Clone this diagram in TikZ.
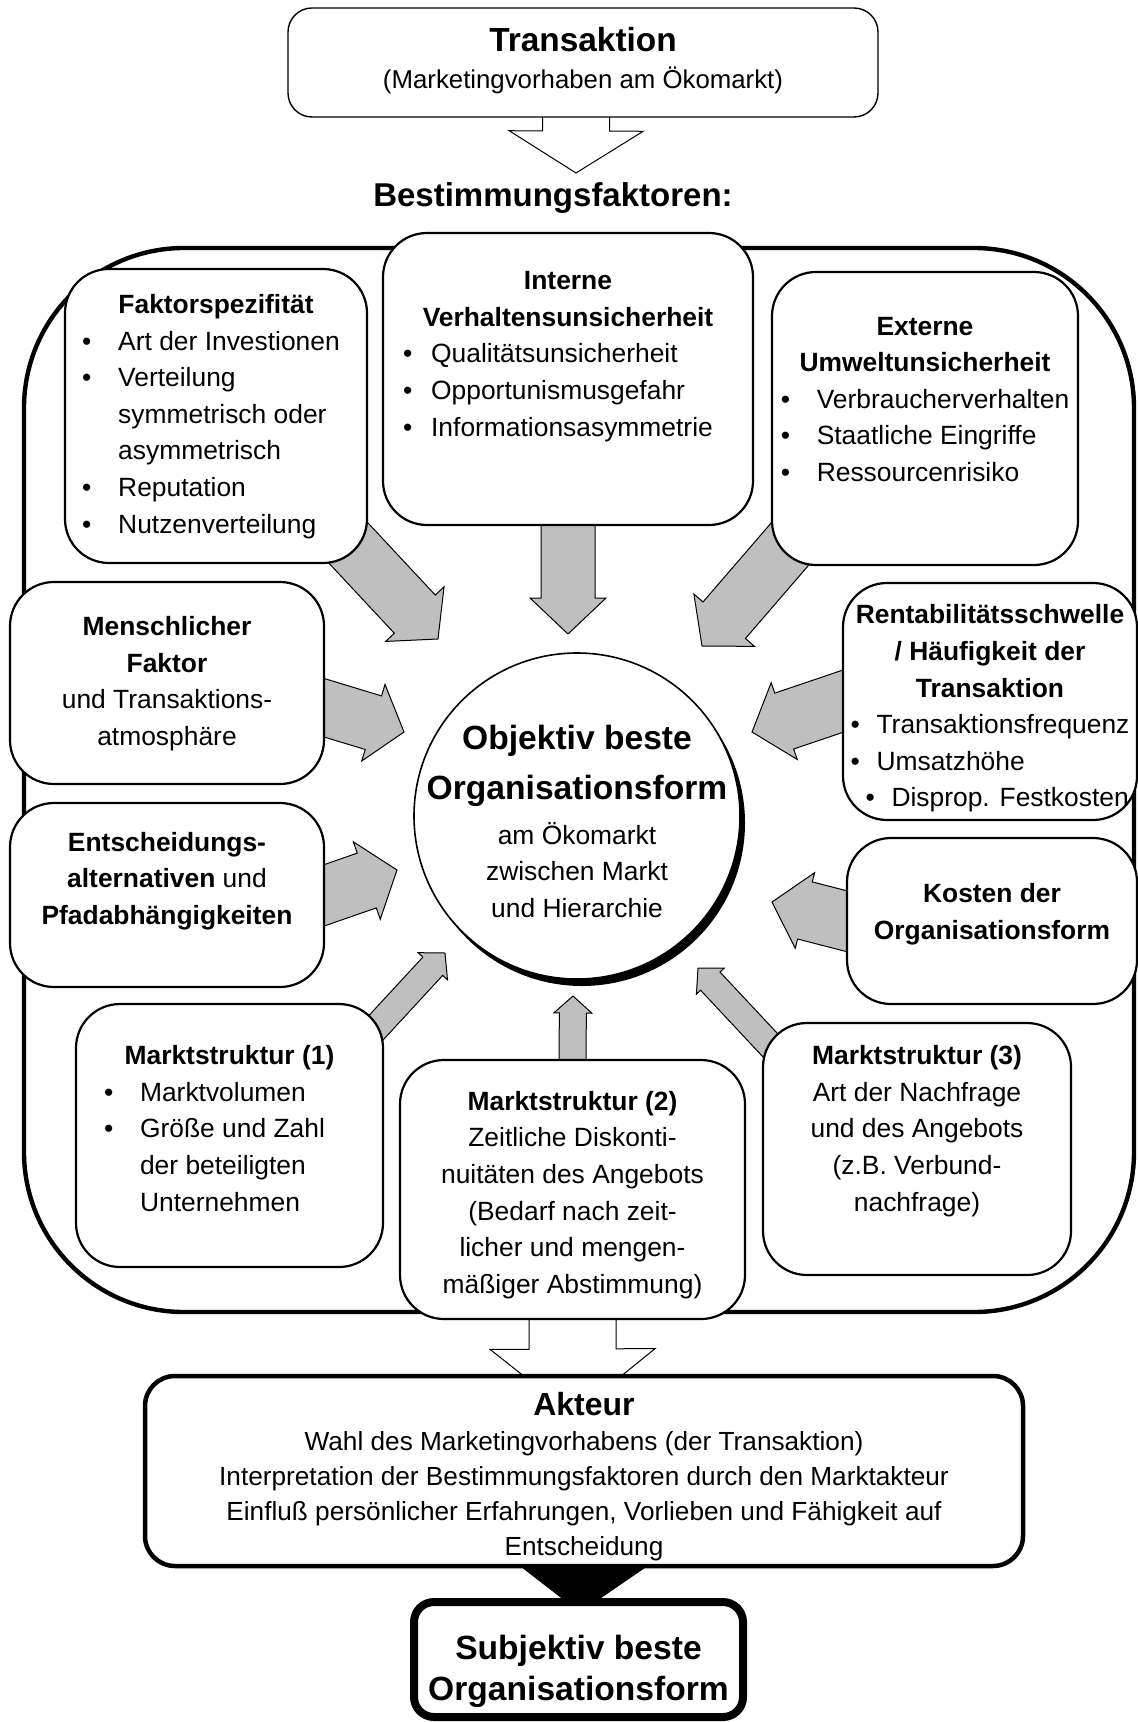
\documentclass[tikz,border=0pt]{standalone}
\usepackage{fontspec}
\setmainfont{Liberation Sans}
\usetikzlibrary{calc,backgrounds,shadows}

\newcommand{\boxfont}{\fontsize{13.2pt}{18.3pt}\selectfont}
\newcommand{\bitem}[1][18pt]{\makebox[#1][l]{\textbullet}}
\newcommand{\bcont}[1][18pt]{\hspace*{#1}}
\newcommand{\boxhead}[1]{\multicolumn{1}{@{}c@{}}{\textbf{#1}}}
\newcommand{\ltab}[2][0pt]{\begin{tabular}{@{}l@{\hspace{#1}}}#2\end{tabular}}
\newcommand{\ctab}[1]{\begin{tabular}{@{}c@{}}#1\end{tabular}}

% block arrow: [style]{from}{to}{shaft half width}{head half width}{head length}
\newcommand{\fatarrow}[6][grayarrow]{%
  \coordinate (tl) at ($(#2)!-25pt!(#3)$);
  \coordinate (hb) at ($(#3)!#6!(#2)$);
  \draw[#1] ($(tl)!#4!90:(#3)$) -- ($(hb)!#4!-90:(tl)$) -- ($(hb)!#5!-90:(tl)$)
    -- (#3) -- ($(hb)!#5!90:(tl)$) -- ($(hb)!#4!90:(tl)$) -- ($(tl)!#4!-90:(#3)$) -- cycle;}

\tikzset{
  factorbox/.style={draw, line width=1.1pt, rounded corners=22pt, fill=white,
    inner sep=2pt, font=\boxfont},
  grayarrow/.style={draw, line width=0.5pt, fill=black!25},
  hollowarrow/.style={draw, line width=0.5pt, fill=white},
  blackarrow/.style={draw, fill=black},
}

\begin{document}
\begin{tikzpicture}[x=0.5pt, y=-0.5pt]
  \useasboundingbox (0,0) rectangle (1138,1722);

  % frame round the factors
  \draw[line width=2.2pt, rounded corners=80pt] (24,248) rectangle (1134,1312);

  \node[factorbox, line width=0.7pt, rounded corners=12pt, minimum width=295pt,
    minimum height=54.5pt] (trans) at (583,62.5)
    {\ctab{{\fontsize{16.7pt}{19pt}\selectfont\textbf{Transaktion}}\\
      {\fontsize{12.9pt}{18pt}\selectfont(Marketingvorhaben am Ökomarkt)}}};
  \node[font=\fontsize{16.5pt}{20pt}\selectfont\bfseries] (best) at (553,198)
    {Bestimmungsfaktoren:};

  \node[factorbox, minimum width=151pt, minimum height=147pt] (fakt) at (216,416)
    {\ltab[5pt]{\boxhead{Faktorspezifität}\\ \bitem Art der Investionen\\
      \bitem Verteilung\\ \bcont symmetrisch oder\\ \bcont asymmetrisch\\
      \bitem Reputation\\ \bitem Nutzenverteilung}};
  \node[factorbox, minimum width=185pt, minimum height=146pt] (intr) at (568,379)
    {\ltab[10pt]{\boxhead{Interne}\\ \boxhead{Verhaltensunsicherheit}\\
      \bitem[14pt]Qualitätsunsicherheit\\ \bitem[14pt]Opportunismusgefahr\\
      \bitem[14pt]Informationsasymmetrie\\[23.5pt]}};
  \node[factorbox, minimum width=153pt, minimum height=146.5pt] (ext) at (925,418.5)
    {\ltab{\boxhead{Externe}\\ \boxhead{Umweltunsicherheit}\\
      \bitem Verbraucherverhalten\\ \bitem Staatliche Eingriffe\\
      \bitem Ressourcenrisiko\\[17.5pt]}};
  \node[factorbox, minimum width=157pt, minimum height=101pt] (mensch) at (167,683)
    {\ctab{\textbf{Menschlicher}\\ \textbf{Faktor}\\ und Transaktions-\\ atmosphäre}};
  \node[factorbox, minimum width=157pt, minimum height=92pt] (entsch) at (167,895)
    {\ctab{\textbf{Entscheidungs-}\\ \textbf{alternativen} und\\
      \textbf{Pfadabhängigkeiten}\\[14.5pt]}};
  \node[factorbox, inner sep=1pt, minimum width=147pt, minimum height=118.5pt] (rent)
    at (990,701.5)
    {\ltab{\boxhead{\rule{0pt}{19.3pt}Rentabilitätsschwelle}\\ \boxhead{/ Häufigkeit der}\\
      \boxhead{Transaktion}\\ \bitem[13pt]Transaktionsfrequenz\\
      \bitem[13pt]Umsatzhöhe\\ \bcont[7.5pt]\bitem[13pt]Disprop. Festkosten}};
  \node[factorbox, minimum width=145pt, minimum height=83pt] (kost) at (992,921)
    {\ctab{\textbf{Kosten der}\\ \textbf{Organisationsform}\\[7.5pt]}};
  \node[factorbox, minimum width=153.5pt, minimum height=131.5pt] (ms1) at (229.5,1135.5)
    {\ltab[15pt]{\boxhead{Marktstruktur (1)}\\ \bitem Marktvolumen\\
      \bitem Größe und Zahl\\ \bcont der beteiligten\\ \bcont Unternehmen\\[5pt]}};
  \node[factorbox, minimum width=172.5pt, minimum height=129.5pt] (ms2) at (572.5,1189.5)
    {\ctab{\textbf{\rule{0pt}{17.8pt}Marktstruktur (2)}\\ Zeitliche Diskonti-\\
      nuitäten des Angebots\\ (Bedarf nach zeit-\\ licher und mengen-\\
      mäßiger Abstimmung)}};
  \node[factorbox, minimum width=154pt, minimum height=126pt] (ms3) at (917,1149)
    {\ctab{\textbf{Marktstruktur (3)}\\ Art der Nachfrage\\ und des Angebots\\
      (z.B. Verbund-\\ nachfrage)\\[18.5pt]}};

  \node[circle, draw, line width=0.8pt, fill=white, minimum size=163pt, inner sep=0pt,
    drop shadow={shadow xshift=2.5pt, shadow yshift=-3.5pt, fill=black, opacity=1},
    font=\boxfont] (obj) at (577,816)
    {\makebox[0pt]{\ctab{{\fontsize{16.8pt}{20pt}\selectfont
      \textbf{\rule{0pt}{22.7pt}Objektiv beste}}\\[7pt]
      {\fontsize{16.8pt}{20pt}\selectfont\textbf{Organisationsform}}\\[3.8pt]
      am Ökomarkt\\ zwischen Markt\\ und Hierarchie}}};

  \node[factorbox, line width=2.25pt, rounded corners=15pt, inner sep=0pt,
    minimum width=439pt, minimum height=94pt, font=\fontsize{13.1pt}{17.5pt}\selectfont]
    (akt) at (584,1471)
    {\ctab{{\fontsize{16pt}{19pt}\selectfont\textbf{\rule{0pt}{19.75pt}Akteur}}\\
      Wahl des Marketingvorhabens (der Transaktion)\\
      Interpretation der Bestimmungsfaktoren durch den Marktakteur\\
      Einfluß persönlicher Erfahrungen, Vorlieben und Fähigkeit auf\\
      Entscheidung}};
  \node[factorbox, line width=4pt, rounded corners=10pt, minimum width=164.5pt,
    minimum height=57.5pt, font=\fontsize{16.8pt}{20.5pt}\selectfont\bfseries]
    (subj) at (578.5,1659.5)
    {\ctab{\rule{0pt}{26.35pt}Subjektiv beste\\ Organisationsform}};

  % arrow tips
  \coordinate (tBest) at (576,173);
  \coordinate (tFakt) at (438,639);
  \coordinate (tIntr) at (568,634);
  \coordinate (tExt) at (702,646);
  \coordinate (tMensch) at (404,732);
  \coordinate (tEntsch) at (397,870);
  \coordinate (tRent) at (752,732);
  \coordinate (tKost) at (772,902);
  \coordinate (tMsa) at (445,953);
  \coordinate (tMsb) at (573,996);
  \coordinate (tMsc) at (698,968);
  \coordinate (tAkt) at (573,1415);
  \coordinate (tSubj) at (580,1612);

  \begin{scope}[on background layer]
    \fatarrow[hollowarrow]{trans.-97}{tBest}{16.75pt}{33.5pt}{21pt}
    \fatarrow{fakt.south east}{tFakt}{14pt}{20pt}{17pt}
    \fatarrow{intr.south}{tIntr}{13.5pt}{19pt}{18pt}
    \fatarrow{ext.south west}{tExt}{14pt}{20pt}{17pt}
    \fatarrow{mensch.-9}{tMensch}{14pt}{20pt}{16pt}
    \fatarrow{entsch.east}{tEntsch}{14.5pt}{20.5pt}{16pt}
    \fatarrow{rent.west}{tRent}{14.75pt}{20.25pt}{17pt}
    \fatarrow{kost.west}{tKost}{14.75pt}{19.5pt}{17pt}
    \fatarrow{ms1.37}{tMsa}{6.75pt}{10pt}{9pt}
    \fatarrow{ms2.north}{tMsb}{6.75pt}{9.5pt}{8.5pt}
    \fatarrow{ms3.144}{tMsc}{6.65pt}{9.5pt}{9pt}
    \fatarrow[hollowarrow]{ms2.south}{tAkt}{21.75pt}{41.25pt}{33pt}
    \fatarrow[blackarrow]{akt.center}{tSubj}{20pt}{48pt}{35pt}
  \end{scope}
\end{tikzpicture}
\end{document}
